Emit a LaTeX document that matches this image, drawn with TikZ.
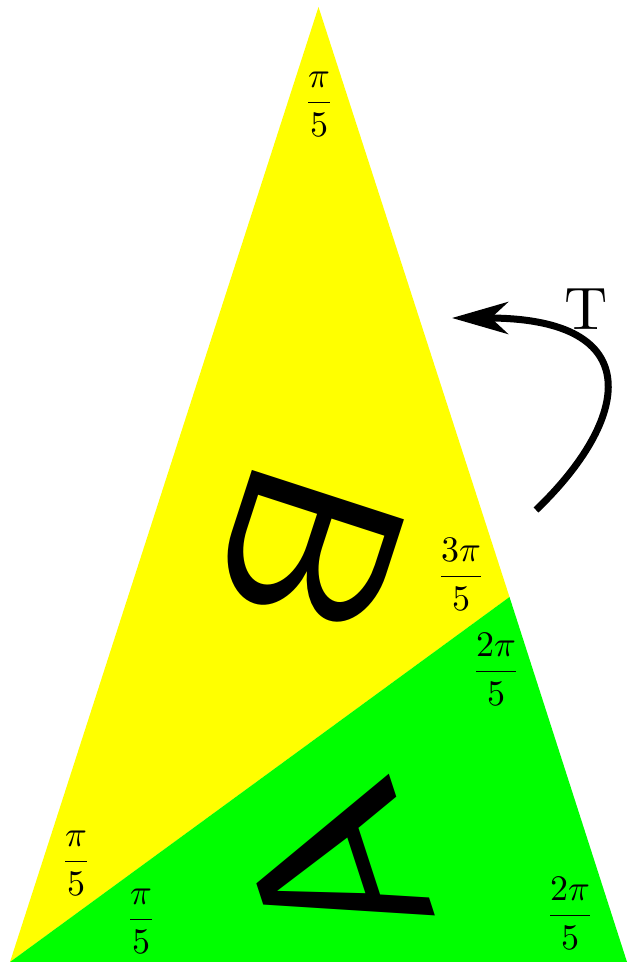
\documentclass[tikz,border=0pt]{standalone}
\usepackage{amsmath}
\usetikzlibrary{arrows.meta}
\definecolor{pieceYellow}{RGB}{255,255,0}
\definecolor{pieceGreen}{RGB}{0,255,0}
\tikzset{
  angLabel/.style  = {scale=1.8, inner sep=0pt},
  bigLetter/.style = {font=\sffamily\footnotesize, scale=14.4, rotate=#1,
                      inner sep=0pt},
  turnArrow/.style = {-{Stealth[length=28pt,width=16pt,inset=8.5pt]},
                      line width=3.5pt},
}
\begin{document}
\begin{tikzpicture}[x=0.5pt,y=-0.5pt]
  \useasboundingbox (0,0) rectangle (627,962);
  % corners of the golden triangle and the cut point
  \coordinate (apex) at (318.5,7);
  \coordinate (bl) at (10,962);
  \coordinate (br) at (627,962);
  \coordinate (cut) at (509.5,597);
  \fill[pieceYellow] (apex) -- (bl) -- (cut) -- cycle;
  \fill[pieceGreen] (bl) -- (br) -- (cut) -- cycle;
  % pieces
  \node[bigLetter=-108] (pieceB) at (310,551) {B};
  \node[bigLetter=108] (pieceA) at (336,870) {A};
  % angles
  \node[angLabel] (angTop) at (319,104) {$\dfrac{\pi}{5}$};
  \node[angLabel] (angCutB) at (461,574) {$\dfrac{3\pi}{5}$};
  \node[angLabel] (angCutA) at (496,669) {$\dfrac{2\pi}{5}$};
  \node[angLabel] (angLeftB) at (76,863) {$\dfrac{\pi}{5}$};
  \node[angLabel] (angLeftA) at (141,921) {$\dfrac{\pi}{5}$};
  \node[angLabel] (angRight) at (570,913) {$\dfrac{2\pi}{5}$};
  % the map T
  \coordinate (tStart) at (536,510);
  \coordinate (tEnd) at (452,318);
  \draw[turnArrow] (tStart) .. controls +(94,-90) and +(198,0) .. (tEnd);
  \node[scale=3] (tName) at (586,309) {T};
\end{tikzpicture}
\end{document}
